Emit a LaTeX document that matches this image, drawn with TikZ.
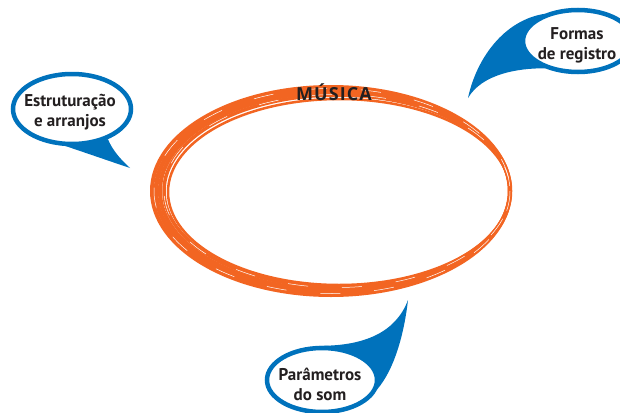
\documentclass[tikz,border=0pt]{standalone}
\usepackage{fontspec}
\setmainfont{PT Sans}
\newfontfamily\titlefont{Open Sans}
\usepackage{tikz}
\usetikzlibrary{shapes.geometric, backgrounds}
\usepackage{xcolor}

\definecolor{bubbleblue}{HTML}{0072BC}
\definecolor{brushorange}{HTML}{F26522}
\definecolor{inkgray}{HTML}{231F20}

\begin{document}
\begin{tikzpicture}[x=1pt, y=-1pt,
    bubble/.style={ellipse, draw=bubbleblue, line width=4.5pt, fill=white, inner sep=0pt},
    tail/.style={fill=bubbleblue},
    bubbletext/.style={text=inkgray, font=\bfseries\fontsize{17}{20}\selectfont, align=center},
    brush/.style={draw=brushorange}]
    \useasboundingbox (0,0) rectangle (620,412);

    % Draw the brushed ellipse (strokes share the right edge, spread on the left)
    \foreach \cx/\cy/\rx/\ry/\w in {331/191/179/104/4, 333/191/177/101/4.5, 335/191/175/99/4, 337/191/173/96/3.5, 339/192/171/93/2.5}
        \draw[brush, line width=\w pt] (\cx,\cy) ellipse [x radius=\rx, y radius=\ry];
    % Optional: a few white streaks for the brush texture
    \foreach \cx/\cy/\rx/\ry/\off in {332/191/178/102.5/0, 337/191/173/96.5/25}
        \draw[white, line width=0.5pt, dash pattern=on 20pt off 34pt, dash phase=\off pt] (\cx,\cy) ellipse [x radius=\rx, y radius=\ry];

    % Title on top of the brush
    \node[text=inkgray, font=\titlefont\bfseries\fontsize{18}{20}\selectfont\addfontfeature{LetterSpace=6}, anchor=base] (title) at (334,100) {MÚSICA};

    % Draw the speech bubbles
    \node[bubble, minimum width=118pt, minimum height=70pt] (bubL) at (72,109) {};
    \node[bubble, minimum width=110pt, minimum height=62pt] (bubTR) at (578,41) {};
    \node[bubble, minimum width=110pt, minimum height=64pt] (bubB) at (322,380) {};

    % Define coordinates for the tips of the tails
    \coordinate (tipL) at (130,168);
    \coordinate (tipTR) at (468,98);
    \coordinate (tipB) at (408,300);

    % Tails behind the bubbles
    \begin{scope}[on background layer]
        \fill[tail] (bubL.-100) .. controls (92,155) and (115,163) .. (tipL) .. controls (119,158) and (112,149) .. (bubL.-40) -- cycle;
        \fill[tail] (bubTR.140) .. controls (503,20) and (476,60) .. (tipTR) .. controls (482,74) and (518,68) .. (bubTR.-140) -- cycle;
        \fill[tail] (bubB.95) .. controls (365,346) and (396,332) .. (tipB) .. controls (404,335) and (394,370) .. (bubB.-10) -- cycle;
    \end{scope}

    % Label the bubbles
    \node[bubbletext] (txtL) at (70,112) {Estruturação\\e arranjos};
    \node[bubbletext] (txtTR) at (577,45) {Formas\\de registro};
    \node[bubbletext] (txtB) at (320,384) {Parâmetros\\do som};

\end{tikzpicture}
\end{document}
